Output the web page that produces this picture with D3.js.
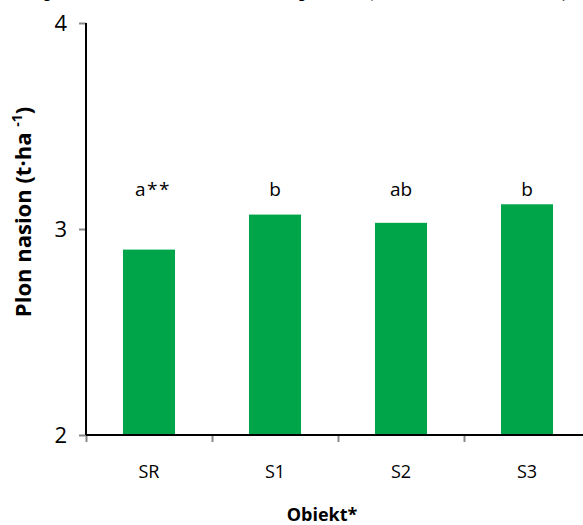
<!DOCTYPE html>
<html><head><meta charset="utf-8">
<script src="https://cdn.jsdelivr.net/npm/d3@7"></script>
<style>body{margin:0;background:#fff}svg{display:block}</style>
</head><body>
<svg id="c" width="583" height="525"></svg>
<script>
const categories = ["SR", "S1", "S2", "S3"];
const values = [2.90, 3.07, 3.03, 3.12];
const groupLabels = ["a**", "b", "ab", "b"];
const yTicks = [2, 3, 4];

const svg = d3.select("#c");
const font = "'Open Sans', 'Noto Sans', sans-serif";

// partially visible title cut off at the top (as in the reference)
svg.append("text").attr("x", 32).attr("y", -3)
  .attr("font-family", "'Liberation Serif', serif").attr("font-weight", "bold")
  .attr("font-size", 19).attr("fill", "#000")
  .text("I plonu, nasion, w zależności od sposobu, (średnio z lat 2015–2017),");

const x = d3.scaleBand().domain(categories).range([86, 590]).paddingInner(0.587).paddingOuter(0.2935);
const y = d3.scaleLinear().domain([2, 4]).range([435, 23]);

svg.selectAll("rect.bar").data(values).enter().append("rect")
  .attr("class", "bar")
  .attr("x", (d, i) => x(categories[i]))
  .attr("width", x.bandwidth())
  .attr("y", d => y(d))
  .attr("height", d => y(2) - y(d))
  .attr("fill", "#00A54A");

// y axis
const yAxis = svg.append("g").attr("transform", "translate(86,0)")
  .call(d3.axisLeft(y).tickValues(yTicks).tickSize(7).tickFormat(d3.format("d")));
yAxis.select(".domain").remove();
yAxis.selectAll(".tick line").attr("stroke", "#888").attr("stroke-width", 2);
yAxis.selectAll(".tick text").attr("font-family", font).attr("font-size", 22).attr("fill", "#000").attr("x", -19);
svg.append("line").attr("x1", 86).attr("x2", 86).attr("y1", y(4)).attr("y2", y(2))
  .attr("stroke", "#000").attr("stroke-width", 2);

// x axis
const xb = d3.scaleLinear().domain([0, 4]).range([86, 590]);
const xAxis = svg.append("g").attr("transform", "translate(0,435)")
  .call(d3.axisBottom(xb).tickValues([0, 1, 2, 3, 4]).tickSize(7).tickFormat(""));
xAxis.select(".domain").remove();
xAxis.selectAll(".tick line").attr("stroke", "#888").attr("stroke-width", 2);
svg.append("line").attr("x1", 86).attr("x2", 590).attr("y1", 435).attr("y2", 435)
  .attr("stroke", "#000").attr("stroke-width", 2);

svg.selectAll("text.cat").data(categories).enter().append("text")
  .attr("class", "cat")
  .attr("x", d => x(d) + x.bandwidth() / 2)
  .attr("y", 478)
  .attr("text-anchor", "middle")
  .attr("font-family", font).attr("font-size", 18).attr("fill", "#000")
  .text(d => d);

// group letters
svg.selectAll("text.grp").data(groupLabels).enter().append("text")
  .attr("class", "grp")
  .attr("x", (d, i) => x(categories[i]) + x.bandwidth() / 2 + (i === 0 ? 4 : 0))
  .attr("y", 196)
  .attr("text-anchor", "middle")
  .attr("font-family", font).attr("font-size", 19).attr("fill", "#000")
  .attr("letter-spacing", (d, i) => i === 0 ? 1.5 : 0)
  .text(d => d);

// axis titles
svg.append("text").attr("x", 322).attr("y", 521).attr("text-anchor", "middle")
  .attr("font-family", font).attr("font-weight", "bold").attr("font-size", 18).attr("fill", "#000")
  .text("Obiekt*");

const yt = svg.append("text").attr("transform", "translate(31,212) rotate(-90)")
  .attr("text-anchor", "middle")
  .attr("font-family", font).attr("font-weight", "bold").attr("font-size", 22).attr("fill", "#000");
yt.append("tspan").text("Plon nasion (t·ha ");
yt.append("tspan").attr("font-size", 14).attr("dy", -9).text("-1");
yt.append("tspan").attr("dy", 9).text(")");
</script>
</body></html>
